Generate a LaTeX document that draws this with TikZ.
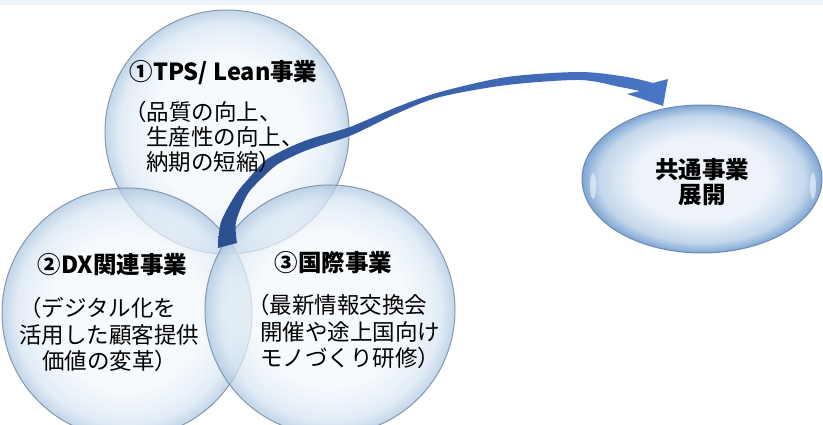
\documentclass[tikz,border=0pt]{standalone}
\usepackage{fontspec}
\setmainfont{Noto Sans CJK JP}
\usepackage{tikz}
\usetikzlibrary{positioning}

\definecolor{topband}{HTML}{EEF3FB}
\definecolor{bubbleIn}{HTML}{F4F8FC}
\definecolor{bubbleMid}{HTML}{D8E6F3}
\definecolor{bubbleEdge}{HTML}{ABC5E0}
\definecolor{bubbleRim}{HTML}{8497AC}
\definecolor{goalIn}{HTML}{EEF3FA}
\definecolor{goalMid}{HTML}{C3D7EC}
\definecolor{goalEdge}{HTML}{80A6D3}
\definecolor{goalRim}{HTML}{6A8BB6}
\definecolor{arrowDark}{HTML}{2C4F90}
\definecolor{arrowLight}{HTML}{4A76C8}

\pgfdeclareradialshading{bubbleshade}{\pgfpoint{0bp}{0bp}}{color(0bp)=(bubbleIn); color(15bp)=(bubbleIn); color(22bp)=(bubbleMid); color(25bp)=(bubbleEdge); color(50bp)=(bubbleEdge)}
\pgfdeclareradialshading{goalshade}{\pgfpoint{0bp}{0bp}}{color(0bp)=(goalIn); color(14bp)=(goalIn); color(21.5bp)=(goalMid); color(25bp)=(goalEdge); color(50bp)=(goalEdge)}

\begin{document}
\begin{tikzpicture}[
            x=1pt, y=-1pt,
            bubble/.style={shading=bubbleshade, draw=bubbleRim, line width=1pt, fill opacity=0.72},
            goal/.style={shading=goalshade, draw=goalRim, line width=1pt},
            title/.style={font=\fontsize{23.5}{25}\selectfont\bfseries, inner sep=0pt, align=center},
            body/.style={font=\fontsize{22.5}{26.5}\selectfont, inner sep=0pt, align=left, anchor=west}
        ]
        \useasboundingbox (0,0) rectangle (823,425);
        \fill[topband] (0,0) rectangle (823,5);

        \coordinate (tps) at (227,132);
        \coordinate (dx) at (127,313);
        \coordinate (intl) at (330,310);
        \coordinate (common) at (702,179);

        \shade[bubble] (tps) circle[radius=122pt];
        \shade[bubble] (dx) circle[radius=125pt];
        \shade[bubble] (intl) circle[radius=125pt];
        \shade[goal] (common) ellipse[x radius=120pt, y radius=74pt];
        \fill[white, opacity=0.5] (593,186) ellipse[x radius=3pt, y radius=13pt];
        \fill[white, opacity=0.5] (813,186) ellipse[x radius=3pt, y radius=13pt];

        % curved block arrow
        \coordinate (tip) at (663,106);
        \shade[left color=arrowDark, right color=arrowLight]
            plot[smooth, tension=0.5] coordinates {(218,248) (221,222) (236,194) (250,177) (266,160) (290,147)
                (313,138) (350,127) (397,107) (440,92) (507,77) (580,72) (627,77) (653,83)}
            -- (668,79) -- (tip) -- (627,94)
            -- plot[smooth, tension=0.5] coordinates {(640,91) (620,87) (580,80) (507,85) (440,97) (398,113)
                (352,135) (316,147) (300,153) (278,164) (262,178) (247,195) (236,222) (237,243)}
            -- cycle;

        \node[title] (tpsTitle) at (223.5,73) {①TPS/ Lean事業};
        \node[body, font=\fontsize{22.5}{25}\selectfont] (tpsBody) at (124,137)
            {（品質の向上、\\\hspace*{22pt}生産性の向上、\\\hspace*{22pt}納期の短縮）};
        \node[title] (dxTitle) at (112.5,265) {②DX関連事業};
        \node[body] (dxBody) at (19,334.5)
            {（デジタル化を\\活用した顧客提供\\\hspace*{23pt}価値の変革）};
        \node[title] (intlTitle) at (333.5,263) {③国際事業};
        \node[body] (intlBody) at (247,331.5)
            {（最新情報交換会\\\hspace*{13pt}開催や途上国向け\\\hspace*{13pt}モノづくり研修）};
        \node[title] (commonText) at (702,182.5) {共通事業\\展開};
    \end{tikzpicture}
\end{document}
